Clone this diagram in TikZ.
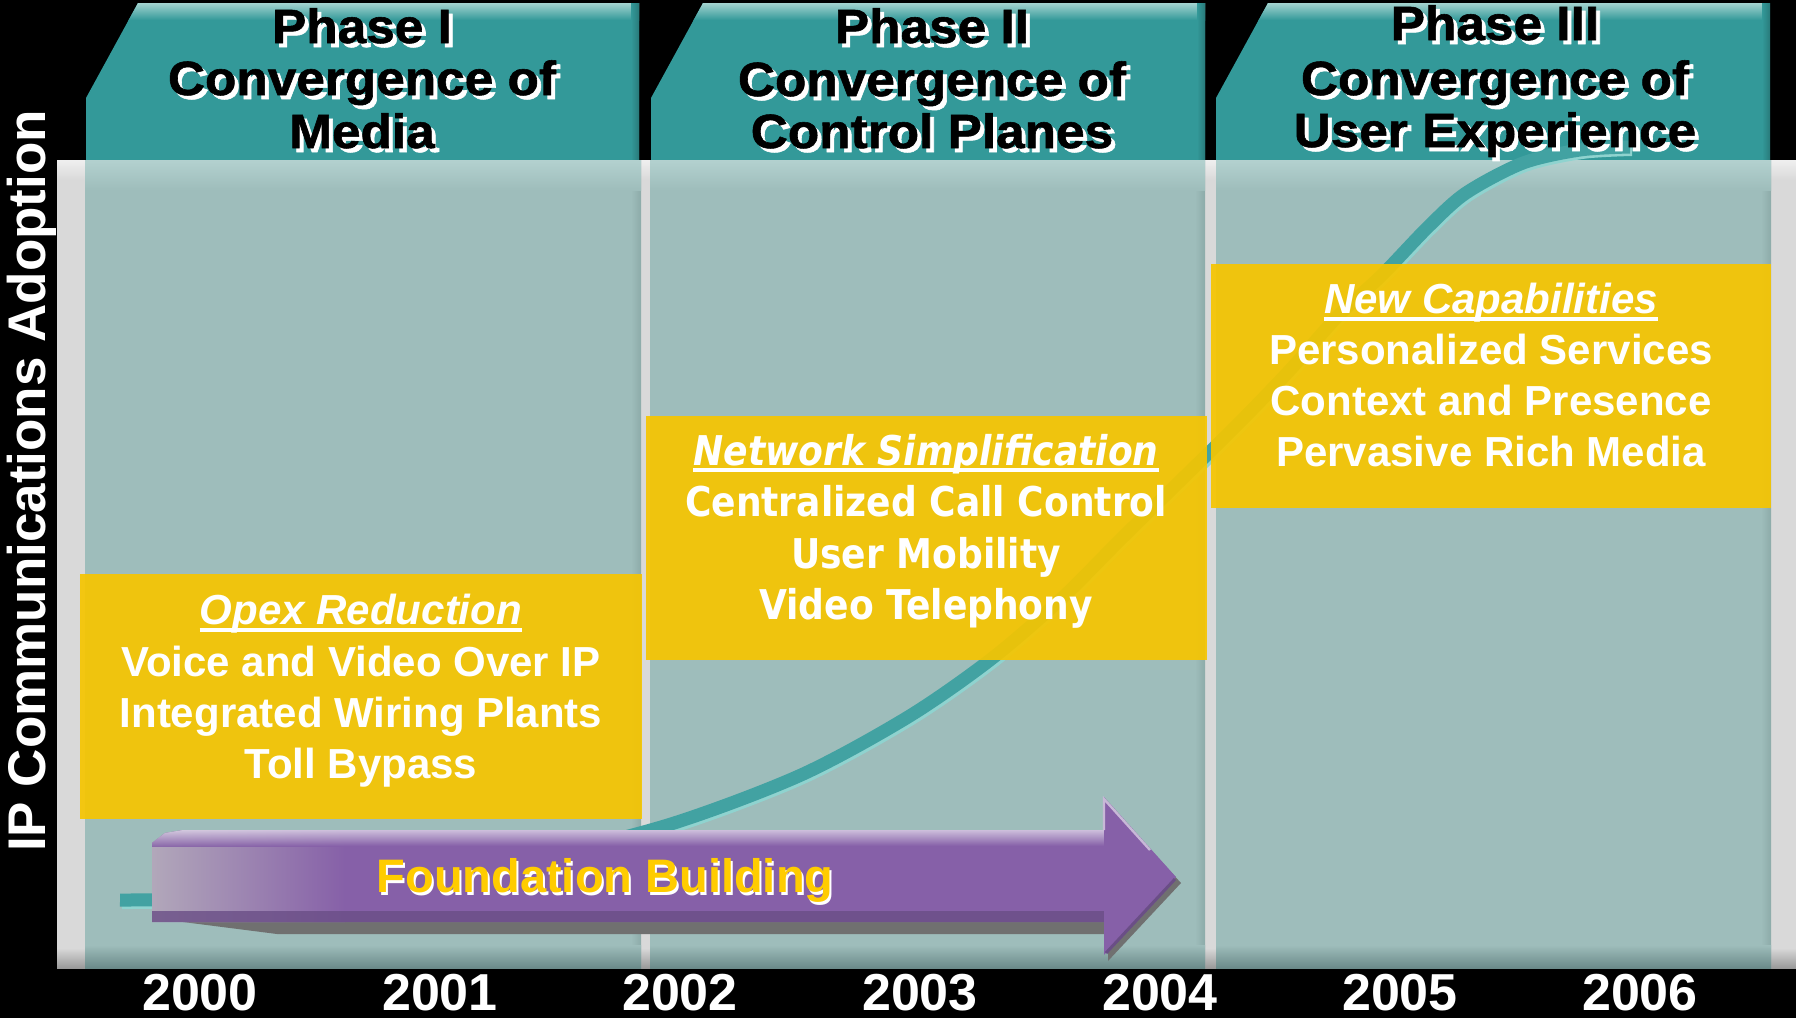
\documentclass[tikz,border=0pt]{standalone}
\usepackage{fontspec}
\setmainfont{Liberation Sans}
\newfontfamily\hdrfont{Liberation Sans}[FakeStretch=1.07,FakeBold=1.2]
\newfontfamily\tahfont{DejaVu Sans}[FakeStretch=0.88]
\definecolor{tealtab}{HTML}{339999}
\definecolor{tealhi}{HTML}{A3D3CF}
\definecolor{panel}{HTML}{9EBDBB}
\definecolor{panelhi}{HTML}{B3D1CF}
\definecolor{paneldk}{HTML}{6B8A89}
\definecolor{panelrt}{HTML}{8DABA9}
\definecolor{graystrip}{HTML}{D9D9D9}
\definecolor{grayhi}{HTML}{EFEFEF}
\definecolor{graydk}{HTML}{9A9A9A}
\definecolor{boxyellow}{HTML}{F6C500}
\definecolor{curveteal}{HTML}{42A2A2}
\definecolor{curvehi}{HTML}{8FD3CF}
\definecolor{arrowpurple}{HTML}{8660A8}
\definecolor{arrowfade}{HTML}{B2A8BA}
\definecolor{arrowdark}{HTML}{6A4E86}
\definecolor{arrowhi}{HTML}{E4DDEC}
\definecolor{arrowshadow}{HTML}{707070}
\definecolor{fbyellow}{HTML}{FFCC00}
\newcommand{\hdrline}[4]{%
  \node[hdrsh] (#1s) at ({#2+4},{#3+4}) {#4};
  \node[hdrtx] (#1) at (#2,#3) {#4};}
\begin{document}
\begin{tikzpicture}[x=0.5pt,y=-0.5pt,
  hdrtx/.style={font=\hdrfont\bfseries\fontsize{24}{26}\selectfont, text=black, anchor=base, inner sep=0pt},
  hdrsh/.style={hdrtx, text=white},
  boxtx/.style={font=\bfseries\fontsize{21}{24}\selectfont, text=white, anchor=base, inner sep=0pt},
  boxtitle/.style={boxtx, font=\bfseries\itshape\fontsize{21}{24}\selectfont},
  tahtx/.style={font=\tahfont\bfseries\fontsize{20.5}{24}\selectfont, text=white, anchor=base, inner sep=0pt},
  tahtitle/.style={tahtx, font=\tahfont\bfseries\itshape\fontsize{20.5}{24}\selectfont},
  yeartx/.style={font=\bfseries\fontsize{26}{30}\selectfont, text=white, anchor=base, inner sep=0pt},
  uline/.style={white, line width=2pt},
  ybox/.style={fill=boxyellow, fill opacity=0.92},
  fbtx/.style={font=\bfseries\fontsize{23.5}{26}\selectfont, text=fbyellow, anchor=base, inner sep=0pt},
  fbsh/.style={fbtx, text=white},
]
\useasboundingbox (0,0) rectangle (1796,1018);
\fill[black] (0,0) rectangle (1796,1018);

% header tabs
\foreach \a/\b in {86/639, 651/1205, 1216/1770}{
  \fill[tealtab] (\a,165) -- (\a,98) -- ({\a+52},3) -- (\b,3) -- (\b,165) -- cycle;
  \begin{scope}
    \clip (\a,165) -- (\a,98) -- ({\a+52},3) -- (\b,3) -- (\b,165) -- cycle;
    \shade[top color=tealhi, bottom color=tealtab] (\a,3) rectangle (\b,20);
    \shade[left color=tealtab, right color=tealtab!80!black] ({\b-8},3) rectangle (\b,165);
  \end{scope}
}

% panel
\fill[graystrip] (57,160) rectangle (1796,968);
\shade[top color=grayhi, bottom color=graystrip] (57,160) rectangle (1796,180);
\shade[top color=graystrip, bottom color=graydk] (57,948) rectangle (1796,968);
\foreach \a/\b in {85/641, 650/1205, 1216/1771}{
  \fill[panel] (\a,160) rectangle (\b,968);
  \shade[left color=panel, right color=panelrt] ({\b-10},160) rectangle (\b,968);
  \shade[top color=panelhi, bottom color=panel] (\a,160) rectangle (\b,190);
  \shade[top color=panel, bottom color=paneldk] (\a,945) rectangle (\b,968);
}

% adoption curve
\begin{scope}[shift={(2,3)}]
\draw[curvehi, line width=6pt] plot[smooth] coordinates {(120,900) (250,898) (400,885) (530,860) (671,824) (801,775) (908,717) (990,660) (1060,600) (1120,540) (1176,485) (1240,422) (1290,370) (1337,317) (1382,275) (1428,227) (1466,193) (1523,163) (1580,150) (1630,147)};
\end{scope}
\draw[curveteal, line width=6.5pt] plot[smooth] coordinates {(120,900) (250,898) (400,885) (530,860) (671,824) (801,775) (908,717) (990,660) (1060,600) (1120,540) (1176,485) (1240,422) (1290,370) (1337,317) (1382,275) (1428,227) (1466,193) (1523,163) (1580,150) (1630,147)};

% header texts
\hdrline{h1a}{362}{43}{Phase I}
\hdrline{h1b}{362}{95}{Convergence of}
\hdrline{h1c}{362}{148}{Media}
\hdrline{h2a}{932}{43}{Phase II}
\hdrline{h2b}{932}{96}{Convergence of}
\hdrline{h2c}{932}{148}{Control Planes}
\hdrline{h3a}{1495}{40}{Phase III}
\hdrline{h3b}{1495}{95}{Convergence of}
\hdrline{h3c}{1495}{147}{User Experience}

% yellow boxes
\fill[ybox] (80,574) rectangle (642,819);
\fill[ybox] (646,416) rectangle (1207,660);
\fill[ybox] (1211,264) rectangle (1771,508);

% box 1
\node[boxtitle] (t1) at (361,624) {Opex Reduction};
\draw[uline] ([yshift=-3pt]t1.base west) -- ([yshift=-3pt]t1.base east);
\node[boxtx] (b1a) at (361,676) {Voice and Video Over IP};
\node[boxtx] (b1b) at (361,727) {Integrated Wiring Plants};
\node[boxtx] (b1c) at (361,778) {Toll Bypass};

% box 2
\node[tahtitle] (t2) at (926,465) {Network Simplification};
\draw[uline, line width=1.6pt] ([yshift=-2.5pt]t2.base west) -- ([yshift=-2.5pt]t2.base east);
\node[tahtx] (b2a) at (926,516) {Centralized Call Control};
\node[tahtx] (b2b) at (926,568) {User Mobility};
\node[tahtx] (b2c) at (926,619) {Video Telephony};

% box 3
\node[boxtitle] (t3) at (1491,313) {New Capabilities};
\draw[uline] ([yshift=-3pt]t3.base west) -- ([yshift=-3pt]t3.base east);
\node[boxtx] (b3a) at (1491,364) {Personalized Services};
\node[boxtx] (b3b) at (1491,415) {Context and Presence};
\node[boxtx] (b3c) at (1491,466) {Pervasive Rich Media};

% arrow
\fill[arrowshadow] (183,922) -- (1104,922) -- (1104,934) -- (277,934) -- cycle;
\fill[arrowshadow] (1108,803) -- (1181,883) -- (1108,961) -- cycle;
\fill[arrowpurple] (152,922) -- (152,843) -- (165,833) -- (183,830) -- (1104,830) -- (1104,922) -- cycle;
\begin{scope}
  \clip (152,922) -- (152,843) -- (165,833) -- (183,830) -- (1104,830) -- (1104,922) -- cycle;
  \shade[left color=arrowfade, right color=arrowpurple] (150,826) rectangle (345,924);
  \shade[top color=arrowhi, bottom color=arrowpurple, fill opacity=0.85] (150,828) rectangle (1104,846);
  \fill[arrowdark, fill opacity=0.8] (150,911) rectangle (1104,922);
\end{scope}
\fill[arrowpurple] (1104,797) -- (1176,877) -- (1104,955) -- cycle;
\draw[arrowhi!70!arrowpurple, line width=1.2pt] (1104,830) -- (1104,799) -- (1150,850);
\draw[arrowdark, line width=1.5pt] (1175,879) -- (1106,953);

\node[fbsh] (fbs) at (607,895) {Foundation Building};
\node[fbtx] (fb) at (605,892) {Foundation Building};

% years
\node[yeartx] (y0) at (200,1010) {2000};
\node[yeartx] (y1) at (440,1010) {2001};
\node[yeartx] (y2) at (680,1010) {2002};
\node[yeartx] (y3) at (920,1010) {2003};
\node[yeartx] (y4) at (1160,1010) {2004};
\node[yeartx] (y5) at (1400,1010) {2005};
\node[yeartx] (y6) at (1640,1010) {2006};

% y axis label
\node[rotate=90, anchor=base, inner sep=0pt, text=white, font=\bfseries\fontsize{26.5}{30}\selectfont] (ylab) at (46,481) {IP Communications Adoption};
\end{tikzpicture}
\end{document}
